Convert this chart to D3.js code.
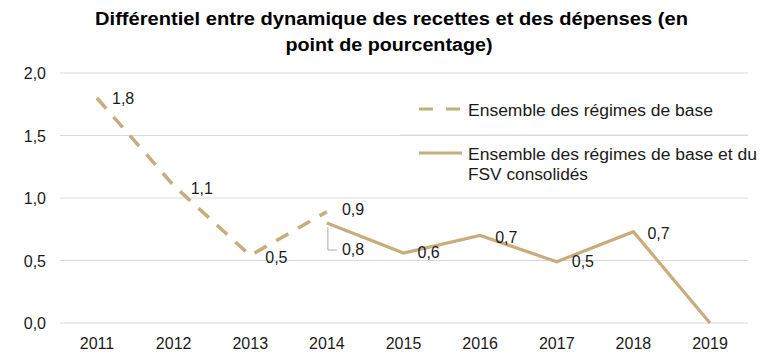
<!DOCTYPE html>
<html><head><meta charset="utf-8">
<script src="https://cdn.jsdelivr.net/npm/d3@7"></script>
<style>body{margin:0;background:#fff}svg{display:block;font-family:"Liberation Sans",Arial,sans-serif}</style>
</head><body><svg id="c" width="783" height="361"></svg>
<script>
const years = ["2011","2012","2013","2014","2015","2016","2017","2018","2019"];
const regimesBase = [1.80, 1.10, 0.54, 0.89, null, null, null, null, null];
const regimesBaseLabels = ["1,8","1,1","0,5","0,9","","","","",""];
const regimesFsv = [null, null, null, 0.80, 0.56, 0.70, 0.49, 0.73, 0.0];
const regimesFsvLabels = ["","","","0,8","0,6","0,7","0,5","0,7",""];
const yTicks = [0, 0.5, 1.0, 1.5, 2.0];
const yTickLabels = ["0,0","0,5","1,0","1,5","2,0"];
const seriesNames = ["Ensemble des régimes de base", "Ensemble des régimes de base et du", "FSV consolidés"];
const title = ["Différentiel entre dynamique des recettes et des dépenses (en", "point de pourcentage)"];

const svg = d3.select("#c");
const col = "#c6ad7b";
const txt = "#1a1a1a";
const x = d3.scalePoint().domain(years).range([97, 710]);
const y = d3.scaleLinear().domain([0, 2]).range([323, 73]);

// grid
svg.append("g").selectAll("line").data(yTicks).join("line")
  .attr("x1", 60).attr("x2", 748).attr("y1", d => y(d)).attr("y2", d => y(d))
  .attr("stroke", "#d9d9d9").attr("stroke-width", 1);

// y labels
svg.append("g").selectAll("text").data(yTicks).join("text")
  .attr("x", 46).attr("y", d => y(d) + 6).attr("text-anchor", "end")
  .attr("font-size", 16).attr("fill", txt).text((d, i) => yTickLabels[i]);

// x labels
svg.append("g").selectAll("text").data(years).join("text")
  .attr("x", d => x(d)).attr("y", 349).attr("text-anchor", "middle")
  .attr("font-size", 16).attr("fill", txt).text(d => d);

// title
const titleW = [593, 207];
const titleX = [391.5, 389];
svg.append("g").selectAll("text").data(title).join("text")
  .attr("x", (d, i) => titleX[i]).attr("y", (d, i) => 25 + i * 25.5).attr("text-anchor", "middle")
  .attr("font-size", 18).attr("font-weight", "bold").attr("fill", "#000")
  .attr("textLength", (d, i) => titleW[i]).attr("lengthAdjust", "spacingAndGlyphs")
  .text(d => d);

const line = d3.line().defined(d => d.v !== null).x(d => x(d.k)).y(d => y(d.v));
const d1 = years.map((k, i) => ({k, v: regimesBase[i], l: regimesBaseLabels[i]}));
const d2 = years.map((k, i) => ({k, v: regimesFsv[i], l: regimesFsvLabels[i]}));

svg.append("path").datum(d1).attr("d", line).attr("fill", "none").attr("stroke", col)
  .attr("stroke-width", 3.5).attr("stroke-dasharray", "14,11");
svg.append("path").datum(d2).attr("d", line).attr("fill", "none").attr("stroke", col)
  .attr("stroke-width", 3.2);

// leader line for 0,8
const p14 = d2[3];
svg.append("path")
  .attr("d", `M${x(p14.k)+1},${y(p14.v)+4}V${y(p14.v)+27}H${x(p14.k)+10}`)
  .attr("fill", "none").attr("stroke", "#aaa").attr("stroke-width", 1);

const lab1Off = [[15, 6], [17, 8], [15, 7], [15, 3]];
svg.append("g").selectAll("text").data(d1.filter(d => d.l)).join("text")
  .attr("x", (d, i) => x(d.k) + lab1Off[i][0]).attr("y", (d, i) => y(d.v) + lab1Off[i][1])
  .attr("font-size", 16).attr("fill", txt).text(d => d.l);

const lab2Off = {"2014": [15, 32], "2015": [14, 5], "2016": [15, 7], "2017": [15, 5], "2018": [14, 7]};
svg.append("g").selectAll("text").data(d2.filter(d => d.l)).join("text")
  .attr("x", d => x(d.k) + lab2Off[d.k][0]).attr("y", d => y(d.v) + lab2Off[d.k][1])
  .attr("font-size", 16).attr("fill", txt).text(d => d.l);

// legend
const lg = svg.append("g");
lg.append("line").attr("x1", 419).attr("x2", 460).attr("y1", 109).attr("y2", 109)
  .attr("stroke", col).attr("stroke-width", 3.2).attr("stroke-dasharray", "14,13");
lg.append("text").attr("x", 468).attr("y", 116).attr("font-size", 16).attr("fill", txt)
  .attr("textLength", 245).attr("lengthAdjust", "spacingAndGlyphs").text(seriesNames[0]);
lg.append("line").attr("x1", 400).attr("x2", 748).attr("y1", 135).attr("y2", 135)
  .attr("stroke", "#d9d9d9").attr("stroke-width", 1);
lg.append("line").attr("x1", 419).attr("x2", 462).attr("y1", 153).attr("y2", 153)
  .attr("stroke", col).attr("stroke-width", 3.2);
lg.append("text").attr("x", 468).attr("y", 160).attr("font-size", 16).attr("fill", txt)
  .attr("textLength", 289).attr("lengthAdjust", "spacingAndGlyphs").text(seriesNames[1]);
lg.append("text").attr("x", 468).attr("y", 180).attr("font-size", 16).attr("fill", txt)
  .attr("textLength", 120).attr("lengthAdjust", "spacingAndGlyphs").text(seriesNames[2]);
</script></body></html>
